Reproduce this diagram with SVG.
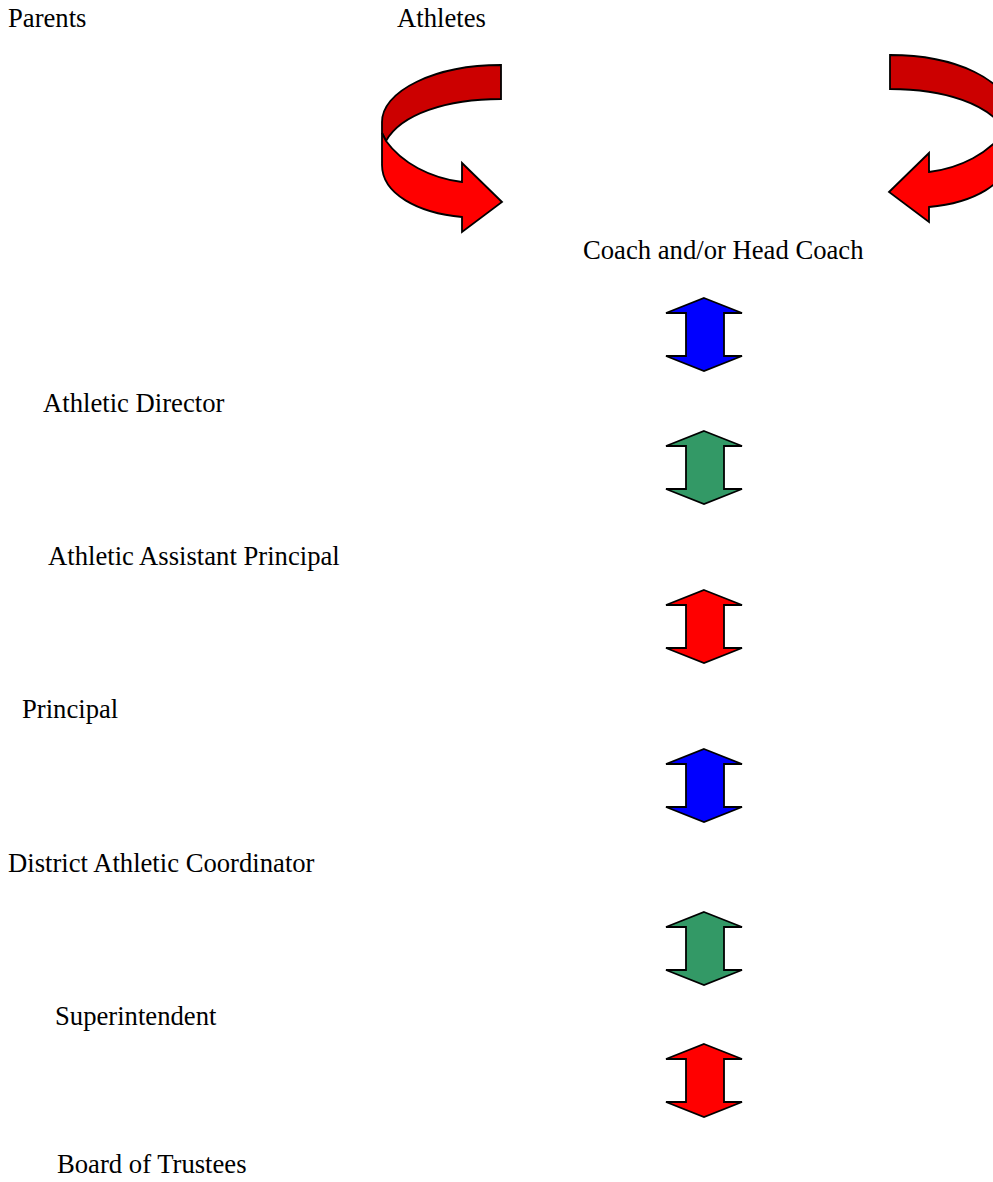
<svg xmlns="http://www.w3.org/2000/svg" width="993" height="1182" viewBox="0 0 993 1182">
<style>
text{font-family:"Liberation Serif","Times New Roman",serif;font-size:26.67px;fill:#000}
.sh{stroke:#000;stroke-width:1.8;stroke-linejoin:miter}
.blue{fill:#0000FF}.green{fill:#339966}.red{fill:#FF0000}.dark{fill:#CC0000}
</style>
<defs>
<path id="dbl" d="M0,0 L38,15 L20,15 L20,58 L38,58 L0,73 L-38,58 L-18,58 L-18,15 L-38,15 Z"/>
<g id="curl">
<path class="sh dark" d="M501,65 L501,99 C447,99 401,114 386,141 L382,133 L382,122 A119,57 0 0 1 501,65 Z"/>
<path class="sh red" d="M386,141 C402,163 430,178 462,182 L462,163 L502,202 L462,232 L462,217 C418,213 382,194 382,165 L382,133 Z"/>
</g>
</defs>
<g id="nodes">
<g id="parents"><text x="8" y="27">Parents</text></g>
<g id="athletes"><text x="397" y="27">Athletes</text></g>
<g id="coach"><text x="583" y="259">Coach and/or Head Coach</text></g>
<g id="athletic-director"><text x="43" y="412">Athletic Director</text></g>
<g id="athletic-assistant-principal"><text x="48" y="565">Athletic Assistant Principal</text></g>
<g id="principal"><text x="22" y="718">Principal</text></g>
<g id="district-athletic-coordinator"><text x="8" y="872">District Athletic Coordinator</text></g>
<g id="superintendent"><text x="55" y="1025">Superintendent</text></g>
<g id="board-of-trustees"><text x="57" y="1173">Board of Trustees</text></g>
</g>
<g id="connectors">
<use href="#curl"/>
<use href="#curl" transform="translate(1391,-10) scale(-1,1)"/>
<use href="#dbl" class="sh blue" x="704" y="298"/>
<use href="#dbl" class="sh green" x="704" y="431"/>
<use href="#dbl" class="sh red" x="704" y="590"/>
<use href="#dbl" class="sh blue" x="704" y="749"/>
<use href="#dbl" class="sh green" x="704" y="912"/>
<use href="#dbl" class="sh red" x="704" y="1044"/>
</g>
</svg>
